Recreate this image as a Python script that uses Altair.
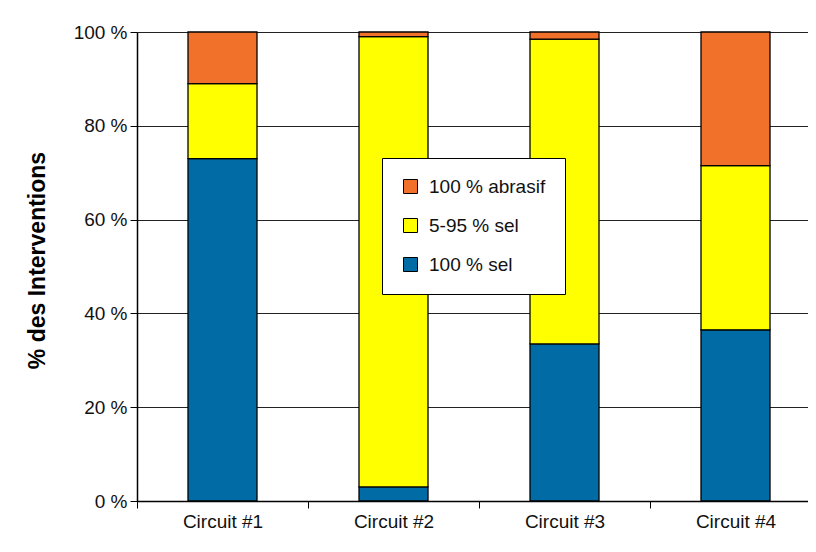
import altair as alt
import pandas as pd

circuits = ["Circuit #1", "Circuit #2", "Circuit #3", "Circuit #4"]
series = ["100 % abrasif", "5-95 % sel", "100 % sel"]
colors = ["#f2712a", "#ffff00", "#006ba4"]
sel100 = [73, 3, 33.5, 36.5]
sel5_95 = [16, 96, 65, 35]
abrasif = [11, 1, 1.5, 28.5]
y_ticks = [0, 20, 40, 60, 80, 100]

rows = []
for i, c in enumerate(circuits):
    rows.append({"circuit": c, "serie": "100 % sel", "ordre": 0, "val": sel100[i]})
    rows.append({"circuit": c, "serie": "5-95 % sel", "ordre": 1, "val": sel5_95[i]})
    rows.append({"circuit": c, "serie": "100 % abrasif", "ordre": 2, "val": abrasif[i]})
df = pd.DataFrame(rows)

font = "Liberation Sans"

chart = alt.Chart(df).mark_bar(
    stroke="black", strokeWidth=1.3, size=69
).encode(
    x=alt.X("circuit:N", sort=circuits, title=None,
            scale=alt.Scale(paddingInner=0, paddingOuter=0, range=[0, 684]),
            axis=alt.Axis(labelAngle=0, labelFontSize=19, labelFont=font,
                          labelColor="#111", tickBand="extent", ticks=True,
                          tickSize=7, tickColor="black", domainColor="black",
                          domainWidth=1.5, labelPadding=4)),
    y=alt.Y("val:Q", stack="zero", title="% des Interventions",
            scale=alt.Scale(domain=[0, 100], nice=False),
            axis=alt.Axis(values=y_ticks, labelExpr="datum.value + ' %'",
                          labelFontSize=19, labelFont=font, labelColor="#111",
                          tickSize=7, tickColor="black", domainColor="black",
                          domainWidth=1.5, grid=True, gridColor="#222",
                          gridWidth=1.2, labelPadding=3,
                          titleFont=font, titleFontSize=23, titleFontWeight="bold",
                          titleColor="black", titleAngle=270, titleX=-100,
                          titleY=228, titleAlign="center", titleBaseline="middle")),
    color=alt.Color("serie:N", scale=alt.Scale(domain=series, range=colors),
                    legend=alt.Legend(title=None, orient="none", legendX=245,
                                      legendY=126, fillColor="white",
                                      strokeColor="black", padding=19,
                                      symbolType="square", symbolSize=196,
                                      symbolStrokeColor="black",
                                      symbolStrokeWidth=1, labelFontSize=19,
                                      labelFont=font, labelColor="#111",
                                      rowPadding=19, labelOffset=9)),
    order=alt.Order("ordre:Q", sort="ascending"),
).properties(
    width=671, height=469,
    autosize=alt.AutoSizeParams(type="none"),
    padding={"left": 129, "top": 24, "right": 0, "bottom": 43},
    background="white",
).configure_view(stroke=None)

chart.save("out.html", embed_options={"renderer": "svg", "actions": False})
